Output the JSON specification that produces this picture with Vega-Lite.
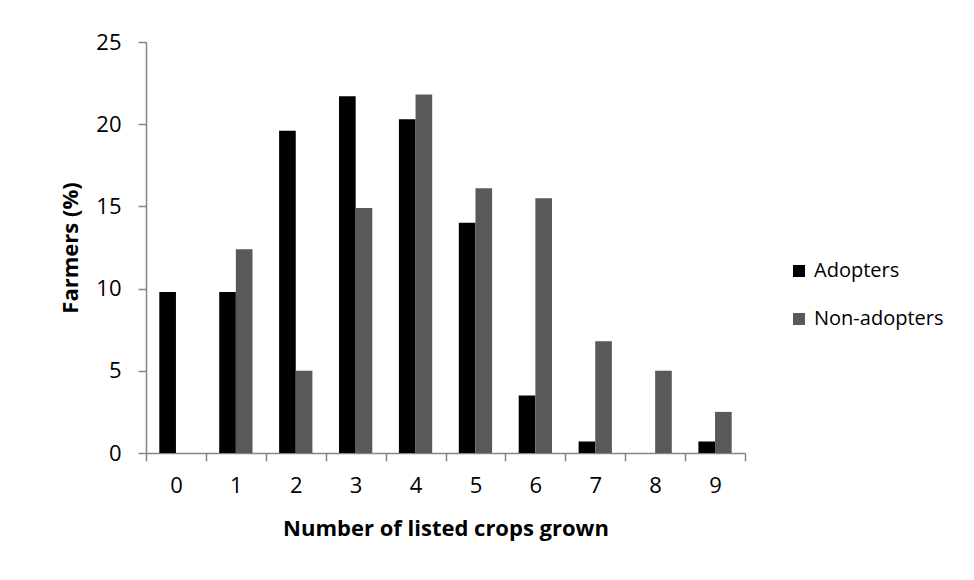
{
  "$schema": "https://vega.github.io/schema/vega-lite/v6.json",
  "width": 599,
  "height": 411,
  "autosize": "none",
  "padding": {"left": 146, "top": 42, "right": 229, "bottom": 127},
  "background": "white",
  "config": {
    "font": "Open Sans",
    "view": {"stroke": null},
    "axis": {"grid": false, "domainColor": "#868686", "tickColor": "#868686", "labelColor": "#000000", "titleColor": "#000000", "labelFont": "Open Sans", "titleFont": "Open Sans", "domainWidth": 1.5, "tickWidth": 1.5},
    "legend": {"labelFont": "Open Sans"}
  },
  "data": {
    "values": [
      {"crops": "0", "group": "Adopters", "pct": 9.8},
      {"crops": "0", "group": "Non-adopters", "pct": 0},
      {"crops": "1", "group": "Adopters", "pct": 9.8},
      {"crops": "1", "group": "Non-adopters", "pct": 12.4},
      {"crops": "2", "group": "Adopters", "pct": 19.6},
      {"crops": "2", "group": "Non-adopters", "pct": 5.0},
      {"crops": "3", "group": "Adopters", "pct": 21.7},
      {"crops": "3", "group": "Non-adopters", "pct": 14.9},
      {"crops": "4", "group": "Adopters", "pct": 20.3},
      {"crops": "4", "group": "Non-adopters", "pct": 21.8},
      {"crops": "5", "group": "Adopters", "pct": 14.0},
      {"crops": "5", "group": "Non-adopters", "pct": 16.1},
      {"crops": "6", "group": "Adopters", "pct": 3.5},
      {"crops": "6", "group": "Non-adopters", "pct": 15.5},
      {"crops": "7", "group": "Adopters", "pct": 0.7},
      {"crops": "7", "group": "Non-adopters", "pct": 6.8},
      {"crops": "8", "group": "Adopters", "pct": 0},
      {"crops": "8", "group": "Non-adopters", "pct": 5.0},
      {"crops": "9", "group": "Adopters", "pct": 0.7},
      {"crops": "9", "group": "Non-adopters", "pct": 2.5}
    ]
  },
  "mark": {"type": "bar"},
  "encoding": {
    "x": {
      "field": "crops", "type": "nominal",
      "scale": {"paddingInner": 0, "paddingOuter": 0},
      "axis": {"title": "Number of listed crops grown", "labelAngle": 0, "labelFontSize": 22, "tickSize": 8, "tickBand": "extent", "labelPadding": 14, "titleFontSize": 22, "titleFontWeight": "bold", "titlePadding": 22}
    },
    "xOffset": {"field": "group", "type": "nominal", "scale": {"paddingInner": 0, "paddingOuter": 0.8}},
    "y": {
      "field": "pct", "type": "quantitative",
      "scale": {"domain": [0, 25], "nice": false},
      "axis": {"title": "Farmers (%)", "values": [0, 5, 10, 15, 20, 25], "labelFontSize": 22, "tickSize": 8, "labelPadding": 17, "titleFontSize": 22, "titleFontWeight": "bold", "titlePadding": 13}
    },
    "color": {
      "field": "group", "type": "nominal",
      "scale": {"domain": ["Adopters", "Non-adopters"], "range": ["#000000", "#595959"]},
      "legend": {"title": null, "orient": "none", "legendX": 643, "legendY": 219, "symbolType": "square", "symbolSize": 144, "symbolStrokeWidth": 0, "symbolOpacity": 1, "labelFontSize": 20, "labelColor": "#000000", "labelOffset": 5, "rowPadding": 28}
    }
  }
}
